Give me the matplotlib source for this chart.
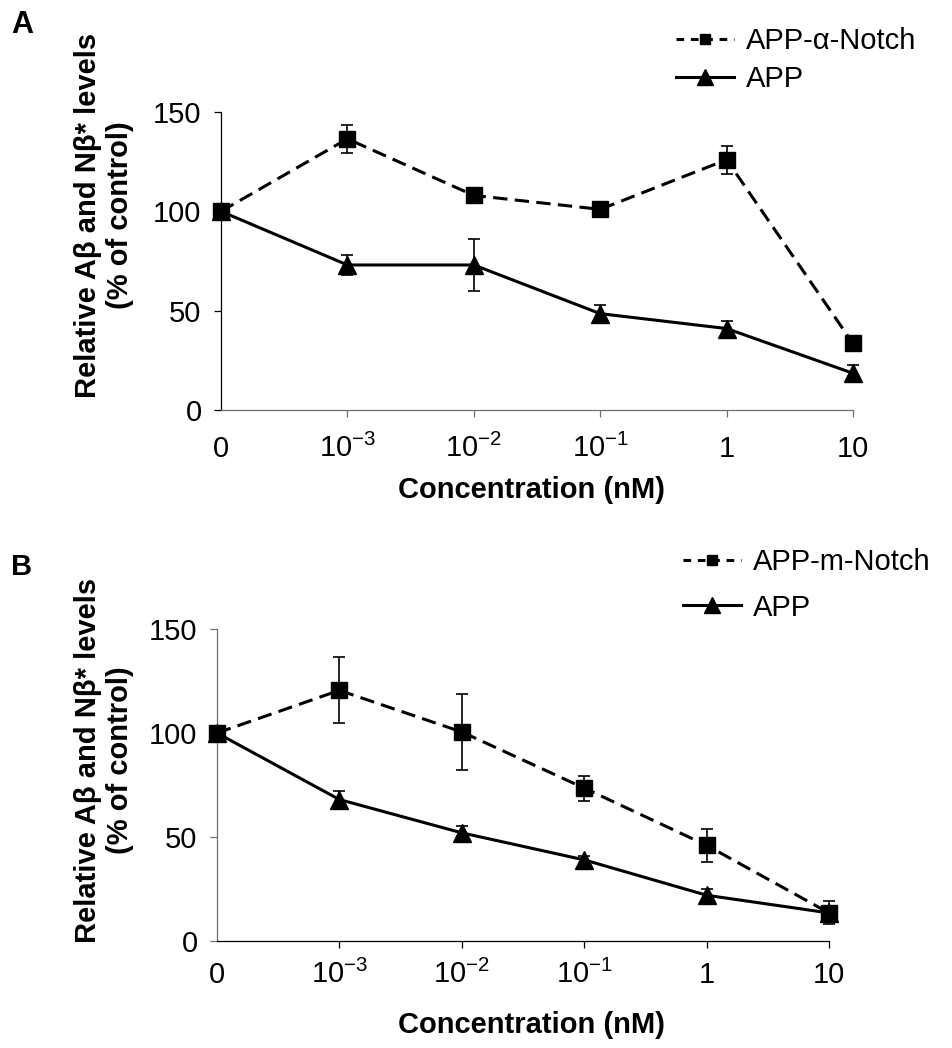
import matplotlib
matplotlib.use('Agg')
import matplotlib.pyplot as plt
from matplotlib.lines import Line2D

plt.rcParams['font.family'] = ['Liberation Sans', 'DejaVu Sans']
plt.rcParams['mathtext.fontset'] = 'custom'
plt.rcParams['mathtext.rm'] = 'Liberation Sans'

# concentrations (nM), plotted as evenly spaced categories
conc_labels = ['0', r'$\mathregular{10^{-3}}$', r'$\mathregular{10^{-2}}$',
               r'$\mathregular{10^{-1}}$', '1', '10']
x = list(range(len(conc_labels)))

# panel A: APP-alpha-Notch vs APP
a_notch = [100, 136.5, 108, 101, 126, 33.5]
a_notch_err = [0, 7, 0, 0, 7, 0]
a_app = [100, 73, 73, 48.5, 41, 18.5]
a_app_err = [0, 4.8, 13.3, 4.5, 4, 4]

# panel B: APP-m-Notch vs APP
b_notch = [100, 120.5, 100.5, 73.5, 46, 13.5]
b_notch_err = [0, 15.8, 18.4, 6, 7.8, 5.5]
b_app = [100, 68, 52, 39, 22, 13.5]
b_app_err = [0, 3.9, 3.2, 2, 3, 2]

FS = 21
DASH = (4.7, 2.4)


def panel(rect, notch, notch_err, app, app_err, left_col, bottom_col, sq, xpad):
    ax = fig.add_axes(rect)
    ax.errorbar(x, app, yerr=app_err, color='black', ls='-', lw=2.2,
                marker='^', ms=13, capsize=4, elinewidth=1.2, capthick=1.2,
                clip_on=False, zorder=3)
    ax.errorbar(x, notch, yerr=notch_err, color='black', ls='--', dashes=DASH,
                lw=2.2, marker='s', ms=sq, capsize=4, elinewidth=1.2,
                capthick=1.2, clip_on=False, zorder=4)
    ax.set_xlim(0, 5)
    ax.set_ylim(0, 150)
    ax.set_yticks([0, 50, 100, 150])
    ax.set_xticks(x, conc_labels)
    for s in ['top', 'right']:
        ax.spines[s].set_visible(False)
    ax.spines['left'].set_color(left_col)
    ax.spines['bottom'].set_color(bottom_col)
    ax.spines['left'].set_linewidth(0.9)
    ax.spines['bottom'].set_linewidth(0.9)
    ax.tick_params(axis='both', direction='out', length=5, width=0.9,
                   labelsize=FS)
    ax.tick_params(axis='y', pad=9, colors=left_col, labelcolor='black')
    ax.tick_params(axis='x', pad=xpad, colors=bottom_col, labelcolor='black')
    for lbl in ax.get_xticklabels():
        lbl.set_va('baseline')
    ax.xaxis.get_major_ticks()[0].tick1line.set_visible(False)
    return ax


fig = plt.figure(figsize=(9.52, 10.48), dpi=100)
W, H = 952, 1048

panel([221 / W, 1 - 410 / H, (853 - 221) / W, (410 - 112) / H],
      a_notch, a_notch_err, a_app, a_app_err, 'black', '#707070', 11, 29)
panel([217 / W, 1 - 941 / H, (829 - 217) / W, (941 - 629) / H],
      b_notch, b_notch_err, b_app, b_app_err, '#707070', 'black', 12, 25)

ylab = 'Relative A\u03b2 and N\u03b2* levels\n(% of control)'
fig.text(104 / W, 1 - 215 / H, ylab, rotation=90, ha='center', va='center',
         fontsize=FS, fontweight='bold', multialignment='center')
fig.text(104 / W, 1 - 760 / H, ylab, rotation=90, ha='center', va='center',
         fontsize=FS, fontweight='bold', multialignment='center')

fig.text(532 / W, 1 - 490 / H, 'Concentration (nM)', ha='center',
         va='center', fontsize=FS, fontweight='bold')
fig.text(532 / W, 1 - 1025 / H, 'Concentration (nM)', ha='center',
         va='center', fontsize=FS, fontweight='bold')

fig.text(22 / W, 1 - 25 / H, 'A', ha='center', va='center', fontsize=22,
         fontweight='bold')
fig.text(22 / W, 1 - 567 / H, 'B', ha='center', va='center', fontsize=21,
         fontweight='bold')


def legend(label, anchor, spacing):
    handles = [
        Line2D([], [], color='black', ls='--', dashes=(2.5, 2.2), lw=2.2,
               marker='s', ms=7),
        Line2D([], [], color='black', ls='-', lw=2.2, marker='^', ms=12),
    ]
    leg = fig.legend(handles, [label, 'APP'], loc='upper left',
                     bbox_to_anchor=anchor, frameon=False, fontsize=FS,
                     handlelength=2.0, handletextpad=0.4,
                     labelspacing=spacing, borderpad=0, borderaxespad=0)
    return leg


legend('APP-\u03b1-Notch', (676 / W, 1 - 27 / H), 0.35)
legend('APP-m-Notch', (683 / W, 1 - 548 / H), 0.6)

fig.savefig('out.png', dpi=100)
